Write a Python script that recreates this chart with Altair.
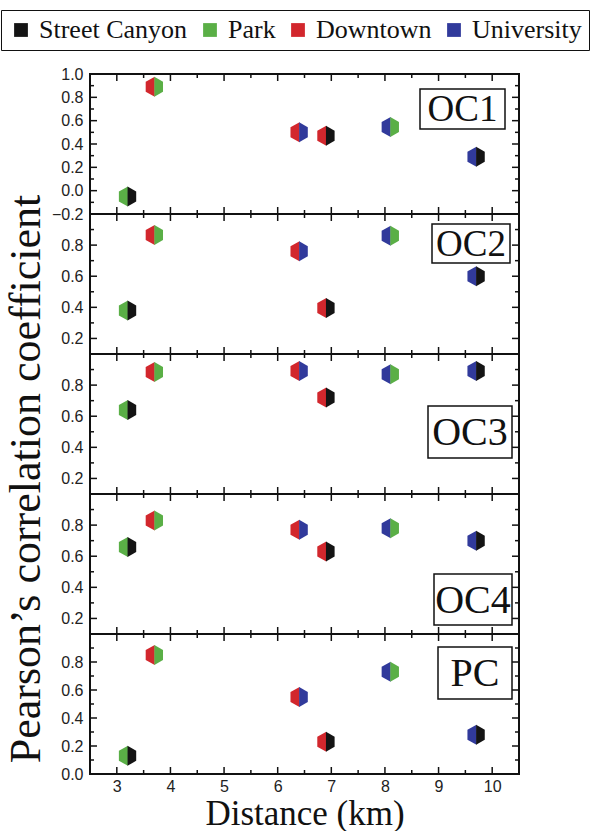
import altair as alt
import pandas as pd

# ---------------- data ----------------
SITES = ["Street Canyon", "Park", "Downtown", "University"]
SITE_COLORS = ["#141414", "#5aaf46", "#d2272d", "#313a9b"]

DISTANCE = [3.2, 3.7, 6.4, 6.9, 8.1, 9.7]
LEFT_SITE = ["Park", "Downtown", "Downtown", "Downtown", "University", "University"]
RIGHT_SITE = ["Street Canyon", "Park", "University", "Street Canyon", "Park", "Street Canyon"]

PANELS = ["OC1", "OC2", "OC3", "OC4", "PC"]
OC1 = [-0.05, 0.89, 0.50, 0.47, 0.545, 0.29]
OC2 = [0.38, 0.865, 0.76, 0.395, 0.86, 0.60]
OC3 = [0.64, 0.885, 0.89, 0.72, 0.87, 0.89]
OC4 = [0.66, 0.83, 0.77, 0.63, 0.78, 0.70]
PC = [0.13, 0.85, 0.55, 0.23, 0.73, 0.28]
VALUES = [OC1, OC2, OC3, OC4, PC]

X_DOMAIN = [2.5, 10.5]
X_MAJOR = [3, 4, 5, 6, 7, 8, 9, 10]
X_MINOR = [3.5, 4.5, 5.5, 6.5, 7.5, 8.5, 9.5]

Y_DOMAINS = [[-0.2, 1.0], [0.1, 1.0], [0.1, 1.0], [0.1, 1.0], [0.0, 1.0]]
Y_LABELS = [
    [-0.2, 0.0, 0.2, 0.4, 0.6, 0.8, 1.0],
    [0.2, 0.4, 0.6, 0.8],
    [0.2, 0.4, 0.6, 0.8],
    [0.2, 0.4, 0.6, 0.8],
    [0.0, 0.2, 0.4, 0.6, 0.8],
]
Y_MAJOR = [
    [0.0, 0.2, 0.4, 0.6, 0.8],
    [0.2, 0.4, 0.6, 0.8],
    [0.2, 0.4, 0.6, 0.8],
    [0.2, 0.4, 0.6, 0.8],
    [0.2, 0.4, 0.6, 0.8],
]
Y_MINOR = [
    [-0.1, 0.1, 0.3, 0.5, 0.7, 0.9],
    [0.3, 0.5, 0.7, 0.9],
    [0.3, 0.5, 0.7, 0.9],
    [0.3, 0.5, 0.7, 0.9],
    [0.1, 0.3, 0.5, 0.7, 0.9],
]

Y_TITLE = "Pearson\u2019s correlation coefficient"
X_TITLE = "Distance (km)"

# ---------------- style ----------------
W, H = 429, 140
SERIF = "Liberation Serif"
SANS = "Liberation Sans"
INK = "#111111"
LEFT_HEX = "M0.04,-1 L-0.866,-0.5 L-0.866,0.5 L0.04,1 Z"
RIGHT_HEX = "M0,-1 L0.866,-0.5 L0.866,0.5 L0,1 Z"
# label boxes (panel pixel coords): x0, x1, y0, y1, fontsize
BOXES = [
    (330, 415, 15, 55, 37),
    (342, 420, 10, 49, 37),
    (338, 422, 52, 104, 40),
    (344, 422, 80, 131, 40),
    (348, 422, 13, 65, 40),
]

color_scale = alt.Scale(domain=SITES, range=SITE_COLORS)
shape_scale = alt.Scale(domain=["L", "R"], range=[LEFT_HEX, RIGHT_HEX])


def panel(i):
    rows = []
    for d, l, r, v in zip(DISTANCE, LEFT_SITE, RIGHT_SITE, VALUES[i]):
        rows.append({"x": d, "y": v, "side": "L", "site": l})
        rows.append({"x": d, "y": v, "side": "R", "site": r})
    df = pd.DataFrame(rows)
    xs = alt.Scale(domain=X_DOMAIN, nice=False, zero=False)
    ys = alt.Scale(domain=Y_DOMAINS[i], nice=False, zero=False)
    last = i == len(PANELS) - 1

    if last:
        xaxis = alt.Axis(values=X_MAJOR, format="d", title=X_TITLE, ticks=False,
                         domain=False, grid=False, labelFont=SANS, labelFontSize=16,
                         labelColor="#222", labelPadding=4, labelFlush=False,
                         titleFont=SERIF, titleFontSize=35, titleFontWeight="normal",
                         titleColor=INK, titlePadding=2)
    else:
        xaxis = None
    yaxis = alt.Axis(values=Y_LABELS[i], format=".1f", title=None, ticks=False,
                     domain=False, grid=False, labelFont=SANS, labelFontSize=16,
                     labelColor="#222", labelPadding=7, labelFlush=False,
                     labelOverlap=False, minExtent=38, maxExtent=38)

    pts = alt.Chart(df).mark_point(filled=True, opacity=1, size=400).encode(
        x=alt.X("x:Q", scale=xs, axis=xaxis),
        y=alt.Y("y:Q", scale=ys, axis=yaxis),
        color=alt.Color("site:N", scale=color_scale,
                        legend=alt.Legend(title=None, orient="top", direction="horizontal",
                                          symbolType="square", symbolSize=190,
                                          symbolStrokeWidth=0, labelFont=SERIF,
                                          labelFontSize=26, labelColor=INK, labelLimit=400,
                                          columnPadding=9, labelOffset=5, padding=7,
                                          strokeColor=INK, offset=15)),
        shape=alt.Shape("side:N", scale=shape_scale, legend=None),
    )

    def xt(vals, y0, y1):
        return alt.Chart(pd.DataFrame({"x": vals})).mark_rule(color=INK, strokeWidth=1.5).encode(
            x=alt.X("x:Q", scale=xs, axis=xaxis), y=alt.value(y0), y2=alt.value(y1))

    def yt(vals, x0, x1):
        return alt.Chart(pd.DataFrame({"y": vals})).mark_rule(color=INK, strokeWidth=1.5).encode(
            y=alt.Y("y:Q", scale=ys, axis=yaxis), x=alt.value(x0), x2=alt.value(x1))

    ticks = [
        xt(X_MAJOR, 0, 7), xt(X_MINOR, 0, 4), xt(X_MAJOR, H, H - 7), xt(X_MINOR, H, H - 4),
        yt(Y_MAJOR[i], 0, 7), yt(Y_MINOR[i], 0, 4), yt(Y_MAJOR[i], W, W - 7), yt(Y_MINOR[i], W, W - 4),
    ]

    x0, x1, y0, y1, fs = BOXES[i]
    lab = pd.DataFrame({"label": [PANELS[i]]})
    box = alt.Chart(lab).mark_rect(fill="white", stroke=INK, strokeWidth=1.5).encode(
        x=alt.value(x0), x2=alt.value(x1), y=alt.value(y0), y2=alt.value(y1))
    txt = alt.Chart(lab).mark_text(font=SERIF, fontSize=fs, color=INK, baseline="middle",
                                   align="center", dy=1).encode(
        x=alt.value((x0 + x1) / 2), y=alt.value((y0 + y1) / 2), text="label:N")

    return alt.layer(pts, *ticks, box, txt).properties(width=W, height=H)


title_chart = alt.Chart(pd.DataFrame({"t": [Y_TITLE]})).mark_text(
    angle=270, font=SERIF, fontSize=44, baseline="middle", align="center", color=INK
).encode(x=alt.value(26), y=alt.value(405), text="t:N").properties(
    width=48, height=5 * H, view=alt.ViewBackground(strokeOpacity=0))

panels = alt.vconcat(*[panel(i) for i in range(len(PANELS))], spacing=0, bounds="flush")

chart = alt.hconcat(title_chart, panels, spacing=0).configure(
    padding={"left": 0, "top": 9, "right": 0, "bottom": 0}
).configure_view(stroke=INK, strokeWidth=2)

chart.save("out.html", embed_options={"renderer": "svg", "actions": False})
